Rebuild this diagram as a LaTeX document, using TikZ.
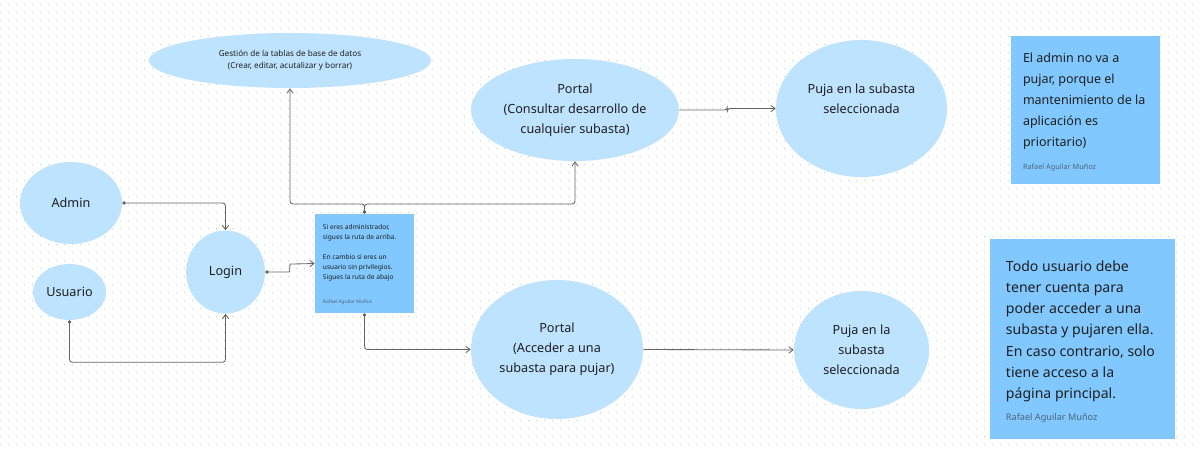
\documentclass[tikz,border=0pt]{standalone}
\usepackage{fontspec}
\setmainfont{Noto Sans}
\usetikzlibrary{arrows.meta, shapes.geometric}
\definecolor{bubblefill}{RGB}{189,227,255}
\definecolor{notefill}{RGB}{128,200,255}
\definecolor{inktext}{RGB}{30,30,30}
\definecolor{signtext}{RGB}{80,100,120}
\definecolor{wire}{RGB}{100,100,100}
\definecolor{griddot}{RGB}{200,200,200}

\begin{document}
\begin{tikzpicture}[
x=0.025cm, y=-0.025cm,
bubble/.style={ellipse, 
fill=bubblefill, 
inner sep=0pt, 
align=center, 
text=inktext, 
font=\fontsize{9}{14.2}\selectfont},
note/.style={rectangle, fill=notefill, inner sep=0pt},
notetext/.style={anchor=north west, inner sep=0pt, align=left, text=inktext},
signature/.style={anchor=west, inner sep=0pt, text=signtext},
arrow/.style={-{Straight Barb[length=3pt,width=4.5pt]}, draw=wire, line width=0.6pt, rounded corners=2pt},
dotarrow/.style={{Circle[length=2.4pt]}-{Straight Barb[length=3pt,width=4.5pt]}, draw=wire, line width=0.6pt, rounded corners=2pt}
]

\useasboundingbox (0,0) rectangle (1200,452);
\fill[white] (0,0) rectangle (1200,452);
\foreach \gy in {4,12,...,452}
  \draw[griddot, line width=0.6pt, dash pattern=on 0.6pt off 5.09pt] (0,\gy) -- (1200,\gy);

% actores y login
\node[bubble, minimum width=2.55cm, minimum height=2.05cm] (admin) at (71,203) {Admin};
\node[bubble, minimum width=1.825cm, minimum height=1.4cm] (usuario) at (69.5,292) {Usuario};
\node[bubble, minimum width=1.975cm, minimum height=2.075cm] (login) at (225.5,272) {Login};

% ruta de arriba
\node[bubble, minimum width=7.05cm, minimum height=1.375cm, font=\fontsize{5.8}{8.9}\selectfont] (gestion) at (290,60.5) {Gestión de la tablas de base de datos\\(Crear, editar, acutalizar y borrar)};
\node[bubble, minimum width=5.2cm, minimum height=2.55cm] (portalA) at (575,110) {Portal\\(Consultar desarrollo de\\cualquier subasta)};
\node[bubble, minimum width=4.275cm, minimum height=3.425cm] (pujaA) at (861.5,108.5) {Puja en la subasta\\seleccionada\\~};

% ruta de abajo
\node[bubble, minimum width=4.3cm, minimum height=3.475cm] (portalU) at (557,349.5) {Portal\\(Acceder a una\\subasta para pujar)};
\node[bubble, minimum width=3.375cm, minimum height=2.95cm] (pujaU) at (861.5,350) {Puja en la\\subasta\\seleccionada};

% notas
\node[note, minimum width=2.475cm, minimum height=2.475cm] (rutaNote) at (364.5,263.5) {};
\node[notetext, font=\fontsize{4.7}{7.1}\selectfont] (rutaText) at ([shift={(8,10.5)}]rutaNote.north west) {Si eres administrador,\\sigues la ruta de arriba.\\[7.1pt]En cambio si eres un\\usuario sin privilegios.\\Sigues la ruta de abajo};
\node[signature, font=\fontsize{3.5}{4}\selectfont] (rutaSign) at ([shift={(8,-11)}]rutaNote.south west) {Rafael Aguilar Muñoz};

\node[note, minimum width=3.725cm, minimum height=3.7cm] (adminNote) at (1085.5,110) {};
\node[notetext, font=\fontsize{8.9}{14.9}\selectfont] (adminText) at ([shift={(12,17)}]adminNote.north west) {El admin no va a\\pujar, porque el\\mantenimiento de la\\aplicación es\\prioritario)};
\node[signature, font=\fontsize{5.2}{6}\selectfont] (adminSign) at ([shift={(12,-17)}]adminNote.south west) {Rafael Aguilar Muñoz};

\node[note, minimum width=4.625cm, minimum height=5cm] (userNote) at (1082.5,339) {};
\node[notetext, font=\fontsize{10}{15}\selectfont] (userText) at ([shift={(16,22)}]userNote.north west) {Todo usuario debe\\tener cuenta para\\poder acceder a una\\subasta y pujaren ella.\\En caso contrario, solo\\tiene acceso a la\\página principal.};
\node[signature, font=\fontsize{6.5}{7}\selectfont] (userSign) at ([shift={(16,-21)}]userNote.south west) {Rafael Aguilar Muñoz};

% conexiones
\coordinate (split) at (364.5,204);
\draw[dotarrow] (admin.east) -| (login.north);
\draw[dotarrow] (usuario.south) -- ++(0,42) -| (login.south);
\draw[dotarrow] (login.east) -- ++(21,0) to[out=0,in=180] ++(7,-8) -- (rutaNote.west);
\draw[dotarrow] (rutaNote.north) -- (split) -| (gestion.south);
\draw[dotarrow] (rutaNote.north) -- (split) -| (portalA.south);
\draw[dotarrow] (rutaNote.south) |- (portalU.west);
\draw[arrow] (portalA.east) -- ++(48,0) |- (pujaA.west);
\draw[arrow] (portalU.east) -- (pujaU.west);

\end{tikzpicture}
\end{document}
